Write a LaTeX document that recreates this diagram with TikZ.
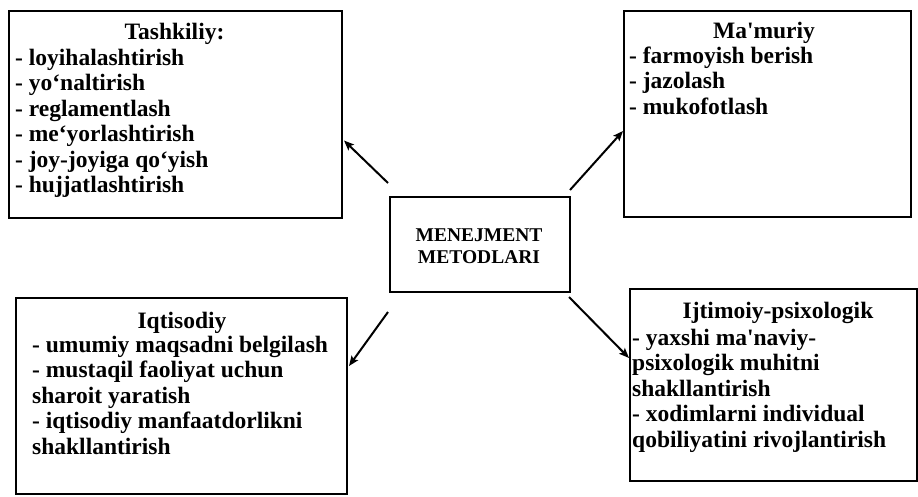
\documentclass[tikz,border=0pt]{standalone}
\usepackage{fontspec}
\setmainfont{Liberation Serif}
% a family without TeX ligatures keeps the straight apostrophe
\newfontfamily\plainserif{Liberation Serif}
\usetikzlibrary{arrows.meta}
\newcommand{\boxfont}{\plainserif\bfseries\fontsize{23.5}{25.5}\selectfont}
\newcommand{\linelist}[1]{\begin{tabular}[t]{@{}l@{}}#1\end{tabular}}
\begin{document}
\begin{tikzpicture}[x=1pt,y=-1pt,
  panel/.style={draw, line width=2pt, anchor=north west, inner sep=0pt},
  head/.style={anchor=base, font=\boxfont, inner sep=0pt},
  items/.style={anchor=base west, font=\boxfont, inner sep=0pt},
  link/.style={-{Stealth[length=10pt,width=8pt,inset=2pt]}, line width=2pt}]
\useasboundingbox (0,0) rectangle (918,496);

% frames
\node[panel, minimum width=333pt, minimum height=207pt] (tash) at (8,10) {};
\node[panel, minimum width=287pt, minimum height=206pt] (mam) at (623,10) {};
\node[panel, minimum width=180pt, minimum height=95pt] (core) at (389,196) {};
\node[panel, minimum width=331pt, minimum height=196pt] (iqt) at (15,297) {};
\node[panel, minimum width=287pt, minimum height=192pt] (ijt) at (629,288) {};

% central title
\node[anchor=base, font=\plainserif\bfseries\fontsize{19.5}{22}\selectfont, inner sep=0pt]
  (coretext) at (479,241) {\begin{tabular}[t]{@{}c@{}}MENEJMENT\\METODLARI\end{tabular}};

% Tashkiliy
\node[head] (tashhead) at (174.5,39) {Tashkiliy:};
\node[items] (tashlist) at (15,65) {\linelist{- loyihalashtirish\\- yo‘naltirish\\- reglamentlash\\- me‘yorlashtirish\\- joy-joyiga qo‘yish\\- hujjatlashtirish}};

% Ma'muriy
\node[head] (mamhead) at (764,38) {Ma'muriy};
\node[items] (mamlist) at (629,63) {\linelist{- farmoyish berish\\- jazolash\\- mukofotlash}};

% Iqtisodiy
\node[head] (iqthead) at (182,328) {Iqtisodiy};
\node[items] (iqtlist) at (32,352) {\linelist{- umumiy maqsadni belgilash\\- mustaqil faoliyat uchun\\sharoit yaratish\\- iqtisodiy manfaatdorlikni\\shakllantirish}};

% Ijtimoiy-psixologik
\node[head] (ijthead) at (778,318) {Ijtimoiy-psixologik};
\node[items] (ijtlist) at (632,345) {\linelist{- yaxshi ma'naviy-\\psixologik muhitni\\shakllantirish\\- xodimlarni individual\\qobiliyatini rivojlantirish}};

% connectors
\draw[link] ([shift={(-1,-13)}]core.north west) -- ([shift={(1,26)}]tash.east);
\draw[link] ([shift={(-1,-6)}]core.north east) -- ([shift={(0,17)}]mam.west);
\draw[link] ([shift={(-1,19)}]core.south west) -- ([shift={(1,-30)}]iqt.east);
\draw[link] ([shift={(-2,4)}]core.south east) -- ([shift={(0,-27)}]ijt.west);
\end{tikzpicture}
\end{document}
